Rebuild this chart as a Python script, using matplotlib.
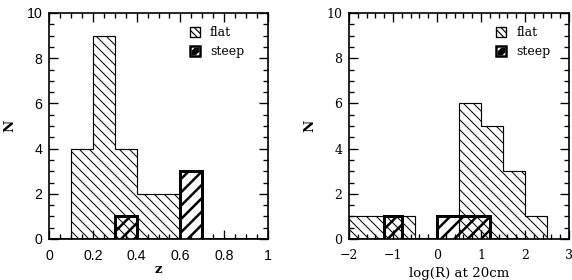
import numpy as np
import matplotlib
matplotlib.use('Agg')
import matplotlib.pyplot as plt
from matplotlib.patches import Rectangle
from matplotlib.ticker import MultipleLocator, FuncFormatter

# left panel: redshift
z_edges = np.round(np.arange(0, 1.01, 0.1), 2)
z_flat = [0, 4, 9, 4, 2, 2, 0, 0, 0, 0]
z_steep = [0, 0, 0, 1, 0, 0, 3, 0, 0, 0]

# right panel: log(R) at 20cm
r_edges_flat = np.round(np.arange(-2, 3.01, 0.5), 2)
r_flat = [1, 1, 1, 0, 0, 6, 5, 3, 1, 0]
r_edges_steep = np.round(np.arange(-2, 2.01, 0.4), 2)
r_steep = [0, 0, 1, 0, 0, 1, 1, 1, 0, 0]

fig = plt.figure(figsize=(572/120, 280/120), dpi=120)
ax1 = fig.add_axes([49/572, 1-239/280, 219/572, 226/280])
ax2 = fig.add_axes([349/572, 1-239/280, 220/572, 226/280])


def hist_panel(ax, fe, fv, se, sv):
    # flat: thin outline, fine hatch
    with plt.rc_context({'hatch.linewidth': 0.6}):
        ax.stairs(fv, fe, fill=True, facecolor='none', edgecolor='black',
                  hatch='\\\\\\\\', linewidth=0)
    ax.stairs(fv, fe, fill=False, color='black', linewidth=0.7)
    # steep: thick outline, heavy hatch
    with plt.rc_context({'hatch.linewidth': 1.5}):
        ax.stairs(sv, se, fill=True, facecolor='none', edgecolor='black',
                  hatch='///', linewidth=0)
    ax.stairs(sv, se, fill=False, color='black', linewidth=1.8)


def legend_box(ax, x0, fs, family):
    w, h = 0.045, 0.045
    with plt.rc_context({'hatch.linewidth': 0.7}):
        ax.add_patch(Rectangle((x0, 0.895), w, h, transform=ax.transAxes,
                               facecolor='white', edgecolor='black',
                               hatch='\\\\\\\\\\\\', linewidth=0.8, zorder=5))
    with plt.rc_context({'hatch.linewidth': 2.0}):
        ax.add_patch(Rectangle((x0, 0.81), w, h, transform=ax.transAxes,
                               facecolor='black', edgecolor='white',
                               hatch='///', linewidth=1.5, zorder=5))
        ax.add_patch(Rectangle((x0, 0.81), w, h, transform=ax.transAxes,
                               facecolor='none', edgecolor='black',
                               linewidth=1.5, zorder=6))
    ax.text(x0 + 0.09, 0.915, 'flat', transform=ax.transAxes, va='center',
            fontsize=fs, family=family)
    ax.text(x0 + 0.09, 0.83, 'steep', transform=ax.transAxes, va='center',
            fontsize=fs, family=family)


def fmt(v, pos):
    return ('%g' % v).replace('-', '\u2212')


def style_axes(ax, fs, family, xmaj, xmin):
    ax.set_ylim(0, 10)
    ax.yaxis.set_major_locator(MultipleLocator(2))
    ax.yaxis.set_minor_locator(MultipleLocator(0.5))
    ax.xaxis.set_major_locator(MultipleLocator(xmaj))
    ax.xaxis.set_minor_locator(MultipleLocator(xmin))
    ax.xaxis.set_major_formatter(FuncFormatter(fmt))
    ax.tick_params(which='both', direction='in', top=True, right=True, width=0.8)
    ax.tick_params(which='major', length=5.5)
    ax.tick_params(which='minor', length=3)
    ax.tick_params(axis='x', pad=6)
    ax.tick_params(axis='y', pad=4)
    for lab in ax.get_xticklabels() + ax.get_yticklabels():
        lab.set_fontsize(fs)
        lab.set_family(family)
    for s in ax.spines.values():
        s.set_linewidth(1.0)


hist_panel(ax1, z_edges, z_flat, z_edges, z_steep)
ax1.set_xlim(0, 1)
style_axes(ax1, 8.5, 'Liberation Sans', 0.2, 0.05)
ax1.set_xlabel('z', fontsize=8, family='DejaVu Serif', fontweight='bold', labelpad=0)
ax1.set_ylabel('N', fontsize=8, family='DejaVu Serif', fontweight='bold', labelpad=6)
legend_box(ax1, 0.645, 7.5, 'DejaVu Serif')

hist_panel(ax2, r_edges_flat, r_flat, r_edges_steep, r_steep)
ax2.set_xlim(-2, 3)
style_axes(ax2, 7.5, 'DejaVu Serif', 1, 0.2)
ax2.set_xlabel('log(R) at 20cm', fontsize=8, family='DejaVu Serif', labelpad=3)
ax2.set_ylabel('N', fontsize=8, family='DejaVu Serif', fontweight='bold', labelpad=6)
legend_box(ax2, 0.67, 7.5, 'DejaVu Serif')

fig.savefig('out.png', dpi=120)
